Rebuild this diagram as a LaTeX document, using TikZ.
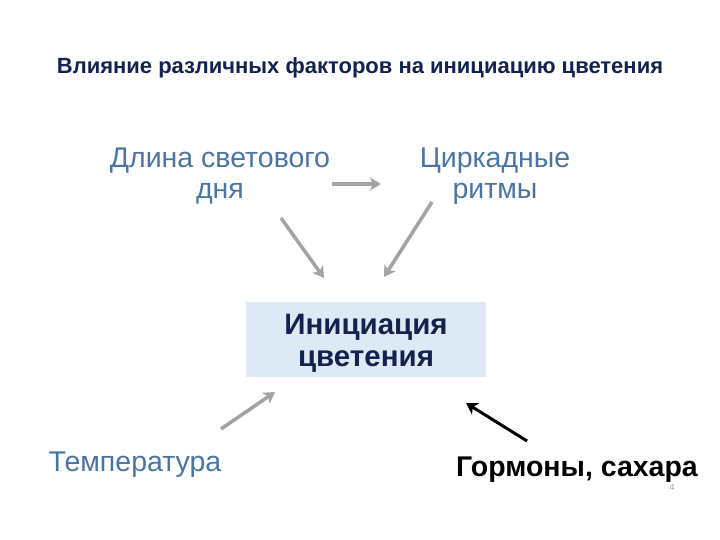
\documentclass[tikz,border=0pt]{standalone}
\usepackage{fontspec}
\setmainfont{Liberation Sans}
\usetikzlibrary{arrows.meta}
\definecolor{navy}{HTML}{13224F}
\definecolor{steel}{HTML}{4A74A4}
\definecolor{boxfill}{HTML}{DEE9F6}
\definecolor{arrgray}{HTML}{A3A3A3}
\tikzset{
  factor/.style={text=steel, font=\fontsize{28.5}{31}\selectfont, align=center},
  garrow/.style={draw=arrgray, line width=3.5pt, -{Stealth[length=11pt,width=13pt,inset=3pt]}},
  barrow/.style={draw=black, line width=3pt, -{Stealth[length=11pt,width=13pt,inset=3pt]}},
}
\begin{document}
\begin{tikzpicture}[x=1pt,y=-1pt]
\useasboundingbox (0,0) rectangle (720,540);
\node[text=navy, font=\bfseries\fontsize{22}{26}\selectfont] (title) at (360,68) {Влияние различных факторов на инициацию цветения};
\node[factor] (day) at (220,176) {Длина светового\\дня};
\node[factor] (circ) at (495,176) {Циркадные\\ритмы};
\node[fill=boxfill, minimum width=240pt, minimum height=75pt] (init) at (366,339.5) {};
\node[text=navy, font=\bfseries\fontsize{29.5}{32}\selectfont, align=center] (initlabel) at (366,343) {Инициация\\цветения};
\node[factor] (temp) at (135,465) {Температура};
\node[font=\bfseries\fontsize{28.5}{30}\selectfont] (horm) at (577,470) {Гормоны, сахара};
\node[text=arrgray, font=\fontsize{9}{10}\selectfont] (num) at (672,487) {4};
\coordinate (a1s) at (332,184); \coordinate (a1e) at (381,184);
\coordinate (a2s) at (281,218); \coordinate (a2e) at (324,278);
\coordinate (a3s) at (432,202); \coordinate (a3e) at (384,277);
\coordinate (a4s) at (221,429); \coordinate (a4e) at (275,392);
\coordinate (a5s) at (527,441); \coordinate (a5e) at (466,403);
\draw[garrow] (a1s) -- (a1e);
\draw[garrow] (a2s) -- (a2e);
\draw[garrow] (a3s) -- (a3e);
\draw[garrow] (a4s) -- (a4e);
\draw[barrow] (a5s) -- (a5e);
\end{tikzpicture}
\end{document}
